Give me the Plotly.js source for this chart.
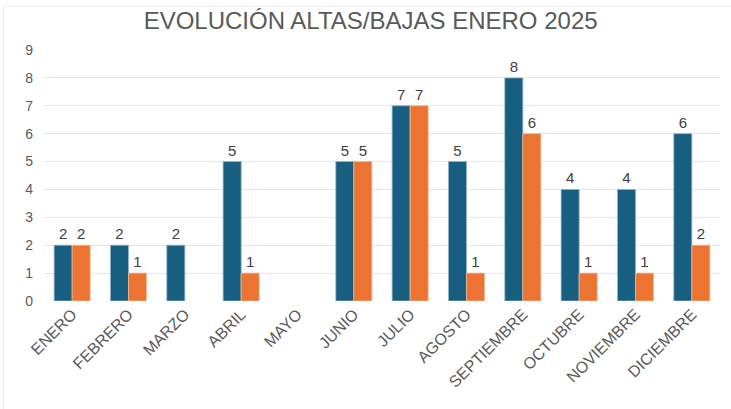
<!DOCTYPE html>
<html>
<head>
<meta charset="utf-8">
<script src="https://cdn.plot.ly/plotly-3.0.1.min.js"></script>
<style>
html,body{margin:0;padding:0;background:#fff;}
#frame{position:absolute;left:3px;top:6px;width:728px;height:403px;border-left:1px solid #ececec;border-top:1px solid #ececec;}
#chart{position:absolute;left:0;top:0;width:731px;height:409px;}
</style>
</head>
<body>
<div id="frame"></div>
<div id="chart"></div>
<script>
const months = ["ENERO","FEBRERO","MARZO","ABRIL","MAYO","JUNIO","JULIO","AGOSTO","SEPTIEMBRE","OCTUBRE","NOVIEMBRE","DICIEMBRE"];
const altas = [2,2,2,5,0,5,7,5,8,4,4,6];
const bajas = [2,1,0,1,0,5,7,1,6,1,1,2];
const yTicks = [0,1,2,3,4,5,6,7,8,9];

const lbl = a => a.map(v => v === 0 ? "" : String(v));
const lw = a => a.map(v => v === 0 ? 0 : 0.8);
const FONT = "Arial, Liberation Sans, sans-serif";

const common = {
  type: "bar",
  textposition: "outside",
  cliponaxis: false,
  textfont: {family: FONT, size: 15, color: "#404040"},
  hoverinfo: "none"
};

const data = [
  Object.assign({}, common, {name: "ALTAS", x: months, y: altas, text: lbl(altas),
    marker: {color: "#175E80", line: {color: "#8fb4c8", width: lw(altas)}}}),
  Object.assign({}, common, {name: "BAJAS", x: months, y: bajas, text: lbl(bajas),
    marker: {color: "#EC7433", line: {color: "#f5b896", width: lw(bajas)}}})
];

const layout = {
  width: 731, height: 409,
  margin: {l: 44, r: 11, t: 50, b: 108},
  paper_bgcolor: "rgba(0,0,0,0)",
  plot_bgcolor: "rgba(0,0,0,0)",
  showlegend: false,
  barmode: "group",
  bargap: 0.36,
  bargroupgap: 0,
  title: {text: "EVOLUCIÓN ALTAS/BAJAS ENERO 2025", x: 0.507, xanchor: "center", y: 0.95, yanchor: "middle",
    font: {family: FONT, size: 24, color: "#595959"}},
  xaxis: {
    tickangle: -45,
    tickfont: {family: FONT, size: 16, color: "#595959"},
    showgrid: false, showline: false, ticks: "", fixedrange: true
  },
  yaxis: {
    range: [0, 9],
    tickvals: yTicks,
    tickfont: {family: FONT, size: 14, color: "#595959"},
    gridcolor: "#e6e6e6", gridwidth: 1,
    zeroline: false, showline: false, ticks: "", ticklabelstandoff: 10, fixedrange: true
  }
};

Plotly.newPlot("chart", data, layout, {displayModeBar: false, staticPlot: true});
</script>
</body>
</html>
